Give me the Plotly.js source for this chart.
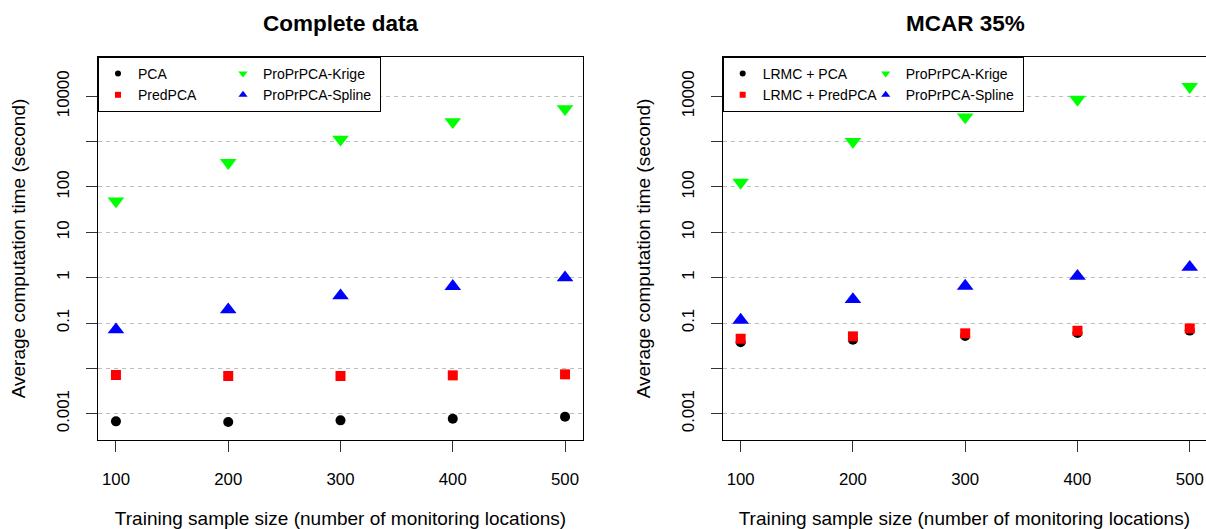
<!DOCTYPE html>
<html><head><meta charset="utf-8">
<script src="https://cdn.plot.ly/plotly-3.0.1.min.js"></script>
<style>html,body{margin:0;padding:0;background:#fff}#chart{width:1206px;height:529px}</style>
</head><body><div id="chart"></div>
<script>
const sampleSizes = [100, 200, 300, 400, 500];
const completePCA = [0.000678, 0.000655, 0.000713, 0.000776, 0.000859];
const completePredPCA = [0.00713, 0.00678, 0.00678, 0.00701, 0.00738];
const completeKrige = [49, 343, 1125, 2735, 5300];
const completeSpline = [0.0713, 0.197, 0.401, 0.644, 1.0];
const mcarPCA = [0.0375, 0.0429, 0.0516, 0.060, 0.068];
const mcarPredPCA = [0.045, 0.0508, 0.0592, 0.0675, 0.0760];
const mcarKrige = [126, 1004, 3490, 8550, 16300];
const mcarSpline = [0.116, 0.331, 0.655, 1.08, 1.70];
const yTickVals = [0.001, 0.01, 0.1, 1, 10, 100, 1000, 10000];
const yTickText = ['0.001', '', '0.1', '1', '10', '100', '', '10000'];
const xTickVals = [100, 200, 300, 400, 500];
const namesComplete = ['PCA', 'PredPCA', 'ProPrPCA-Krige', 'ProPrPCA-Spline'];
const namesMcar = ['LRMC + PCA', 'LRMC + PredPCA', 'ProPrPCA-Krige', 'ProPrPCA-Spline'];
const titles = ['Complete data', 'MCAR 35%'];

const FONT = 'Liberation Sans, Arial, sans-serif';
const colors = ['#000000', '#FF0000', '#00FF00', '#0000FF'];
const symbols = ['circle', 'square', 'triangle-down', 'triangle-up'];
const sizes = [10, 10, 14.5, 14.5];
const legSizes = [6, 6, 8, 8];

const traces = [];
function addPanel(series, names, xa, ya, leg, colWidths) {
  series.forEach((vals, i) => {
    traces.push({
      type: 'scatter', mode: 'markers', x: sampleSizes, y: vals,
      xaxis: xa, yaxis: ya, name: names[i], showlegend: false,
      marker: {symbol: symbols[i], color: colors[i], size: sizes[i], line: {width: 0}},
      hoverinfo: 'x+y+name'
    });
  });
  names.forEach((nm, i) => {
    traces.push({
      type: 'scatter', mode: 'markers', x: [null], y: [null],
      xaxis: xa, yaxis: ya, name: nm, legend: leg,
      legendgroup: leg + (i < 2 ? 'a' : 'b'),
      legendwidth: i < 2 ? colWidths[0] : colWidths[1],
      marker: {symbol: symbols[i], color: colors[i], size: legSizes[i], line: {width: 0}}
    });
  });
}
addPanel([completePCA, completePredPCA, completeKrige, completeSpline], namesComplete, 'x', 'y', 'legend', [80, 112]);
addPanel([mcarPCA, mcarPredPCA, mcarKrige, mcarSpline], namesMcar, 'x2', 'y2', 'legend2', [98, 112]);

function xAxis(domain, range, anchor) {
  return {
    domain: domain, range: range, anchor: anchor, type: 'linear',
    tickmode: 'array', tickvals: xTickVals, ticktext: xTickVals.map(String),
    ticks: 'outside', ticklen: 11, tickwidth: 1, tickcolor: '#333',
    showline: true, linecolor: '#000', linewidth: 1, mirror: true,
    showgrid: false, zeroline: false,
    tickfont: {family: FONT, size: 16.8, color: '#000'}, ticklabelstandoff: 13,
    title: {text: 'Training sample size (number of monitoring locations)',
            font: {family: FONT, size: 19, color: '#000'}, standoff: 23}
  };
}
function yAxis(anchor, mirror) {
  return {
    type: 'log', range: [-3.58, 4.867], anchor: anchor, domain: [0, 1],
    tickmode: 'array', tickvals: yTickVals, ticktext: yTickText, tickangle: -90,
    ticks: 'outside', ticklen: 11, tickwidth: 1, tickcolor: '#333',
    showline: true, linecolor: '#000', linewidth: 1, mirror: mirror,
    showgrid: true, gridcolor: '#BEBEBE', gridwidth: 1, griddash: '4px,4px',
    zeroline: false,
    tickfont: {family: FONT, size: 16.8, color: '#000'}, ticklabelstandoff: 10,
    title: {text: 'Average computation time (second)',
            font: {family: FONT, size: 19, color: '#000'}, standoff: 23}
  };
}
function legendCfg(x) {
  return {
    x: x, y: 1, xanchor: 'left', yanchor: 'top', orientation: 'h',
    traceorder: 'grouped', entrywidthmode: 'pixels', tracegroupgap: 0,
    bgcolor: '#FFFFFF', bordercolor: '#000000', borderwidth: 1,
    font: {family: FONT, size: 14, color: '#000'}, itemsizing: 'trace'
  };
}
const d1 = [0, 0.43773], d2 = [0.5638, 1];
const layout = {
  width: 1206, height: 529,
  margin: {l: 98, r: 0, t: 57, b: 89, pad: 0},
  paper_bgcolor: '#FFFFFF', plot_bgcolor: '#FFFFFF',
  font: {family: FONT, color: '#000'},
  xaxis: xAxis(d1, [84, 516], 'y'),
  yaxis: yAxis('x', true),
  xaxis2: xAxis(d2, [84, 514.5], 'y2'),
  yaxis2: yAxis('x2', false),
  legend: legendCfg(0),
  legend2: legendCfg(d2[0]),
  annotations: titles.map((t, i) => ({
    text: '<b>' + t + '</b>', xref: 'paper', yref: 'paper',
    x: i === 0 ? (d1[0] + d1[1]) / 2 : ((722.7 + 1207.7) / 2 - 98) / 1108,
    y: 1.088, xanchor: 'center', yanchor: 'middle', showarrow: false,
    font: {family: FONT, size: 22.5, color: '#000'}
  })),
  showlegend: true
};
Plotly.newPlot('chart', traces, layout, {displayModeBar: false, staticPlot: true});
</script></body></html>
